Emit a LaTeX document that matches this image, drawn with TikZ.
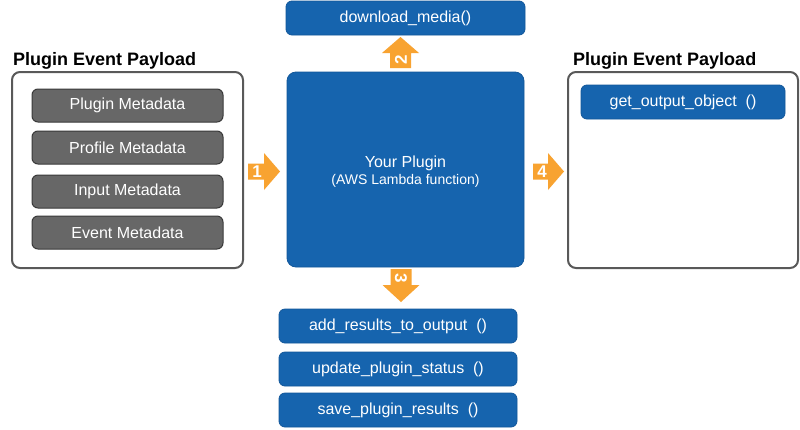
\documentclass[tikz,border=0pt]{standalone}
\usepackage{fontspec}
\setmainfont{Liberation Sans}
\definecolor{pblue}{HTML}{1664AE}
\definecolor{pblueedge}{HTML}{12579A}
\definecolor{porange}{HTML}{F8A331}
\definecolor{pgray}{HTML}{676767}
\definecolor{pedge}{HTML}{3A3A3A}
\definecolor{pframe}{HTML}{595959}
\begin{document}
\begin{tikzpicture}[x=1pt,y=-1pt,
  frame/.style={draw=pframe, line width=2pt, rounded corners=8pt, fill=white, inner sep=0pt},
  graybox/.style={draw=pedge, line width=1pt, fill=pgray, rounded corners=6pt, text=white,
    font=\fontsize{16}{19}\selectfont, inner sep=0pt, minimum width=191pt, minimum height=33pt},
  bluebox/.style={draw=pblueedge, line width=0.8pt, fill=pblue, rounded corners=6pt, text=white,
    font=\fontsize{16}{19}\selectfont, inner sep=0pt, minimum height=34pt},
  titletext/.style={font=\bfseries\fontsize{18}{21}\selectfont, text=black, inner sep=0pt},
  num/.style={text=white, font=\bfseries\fontsize{17}{19}\selectfont, inner sep=0pt},
  blockarrow/.style={fill=porange}]
\fill[white] (0,0) rectangle (800,429);
\useasboundingbox (0,0) rectangle (800,429);

% left payload
\node[titletext, anchor=base west] (ltitle) at (13,65) {Plugin Event Payload};
\node[frame, minimum width=231pt, minimum height=196pt] (lframe) at (127.5,170) {};
\node[graybox] (pm) at (127.5,105.5) {Plugin Metadata};
\node[graybox] (prm) at (127.5,147.5) {Profile Metadata};
\node[graybox] (im) at (127.5,191.5) {Input Metadata};
\node[graybox] (em) at (127.5,232.5) {Event Metadata};

% right payload
\node[titletext, anchor=base west] (rtitle) at (573,65) {Plugin Event Payload};
\node[frame, minimum width=230pt, minimum height=196pt] (rframe) at (683,170) {};
\node[bluebox, minimum width=204pt] (goo) at (683,102) {get\_output\_object\ \ ()};

% center
\node[draw=pblueedge, line width=0.8pt, fill=pblue, rounded corners=9pt, text=white,
  minimum width=237pt, minimum height=195pt] (plugin) at (405.5,169.5) {};
\node[text=white, align=center, font=\fontsize{16}{17}\selectfont] (plugintext) at (405.5,172)
  {Your Plugin\\{\fontsize{14}{17}\selectfont (AWS Lambda function)}};

% top
\node[bluebox, minimum width=239pt] (dm) at (405.5,18) {download\_media()};

% bottom
\node[bluebox, minimum width=238pt] (arto) at (398,326) {add\_results\_to\_output\ \ ()};
\node[bluebox, minimum width=238pt] (ups) at (398,369) {update\_plugin\_status\ \ ()};
\node[bluebox, minimum width=238pt] (spr) at (398,410) {save\_plugin\_results\ \ ()};

% arrow 1
\fill[blockarrow] (248,163.5) -- (264,163.5) -- (264,153) -- (280,171.5) -- (264,190)
  -- (264,179.5) -- (248,179.5) -- cycle;
\node[num] (n1) at (257,172) {1};
% arrow 4
\fill[blockarrow] (533,163.5) -- (548,163.5) -- (548,153) -- (564,171.5) -- (548,190)
  -- (548,179.5) -- (533,179.5) -- cycle;
\node[num] (n4) at (542,172) {4};
% arrow 2 (up)
\fill[blockarrow] (390,68) -- (390,53) -- (382,53) -- (400.5,37) -- (419,53)
  -- (411,53) -- (411,68) -- cycle;
\node[num, rotate=90] (n2) at (401,60) {2};
% arrow 3 (down)
\fill[blockarrow] (390.5,269) -- (390.5,285) -- (382.5,285) -- (401,302) -- (419.5,285)
  -- (411.5,285) -- (411.5,269) -- cycle;
\node[num, rotate=-90] (n3) at (401,278) {3};
\end{tikzpicture}
\end{document}
